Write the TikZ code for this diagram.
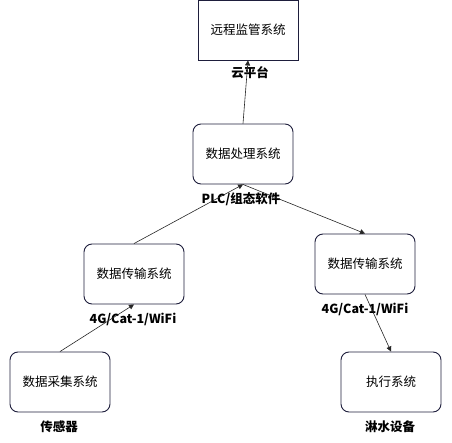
\documentclass[tikz,border=0pt]{standalone}
\usepackage{fontspec}
\setmainfont{Noto Sans CJK SC}
\usetikzlibrary{arrows.meta}
\definecolor{boxline}{HTML}{1E1E3C}
\begin{document}
\begin{tikzpicture}[x=1pt,y=-1pt,
  sysbox/.style={draw=boxline,line width=0.9pt,minimum width=100pt,minimum height=60pt,inner sep=0pt,font=\fontsize{12.5}{14}\selectfont,text=black},
  roundbox/.style={sysbox,rounded corners=8pt},
  lbl/.style={font=\fontsize{12.5}{14}\selectfont\bfseries,text=black,inner sep=0pt},
  conn/.style={draw=black!85,line width=0.6pt,-{Triangle[length=5pt,width=5pt]}}]
\useasboundingbox (0,0) rectangle (452,443);
\node[sysbox] (remote) at (248,30) {远程监管系统};
\node[roundbox] (proc) at (243,154) {数据处理系统};
\node[roundbox] (transL) at (134,274) {数据传输系统};
\node[roundbox] (transR) at (365,264) {数据传输系统};
\node[roundbox] (collect) at (60,382) {数据采集系统};
\node[roundbox] (exec) at (391,382) {执行系统};
\node[lbl] (l1) at (250,73) {云平台};
\node[lbl] (l2) at (241,199) {PLC/组态软件};
\node[lbl] (l3) at (133,319) {4G/Cat-1/WiFi};
\node[lbl] (l4) at (365,309) {4G/Cat-1/WiFi};
\node[lbl] (l5) at (59,427) {传感器};
\node[lbl] (l6) at (390,427) {淋水设备};
\draw[conn] (proc.north) -- (remote.south);
\draw[conn] (transL.north) -- (proc.south);
\draw[conn] (proc.south) -- (transR.north);
\draw[conn] (collect.north) -- (transL.south);
\draw[conn] (transR.south) -- (exec.north);
\end{tikzpicture}
\end{document}
